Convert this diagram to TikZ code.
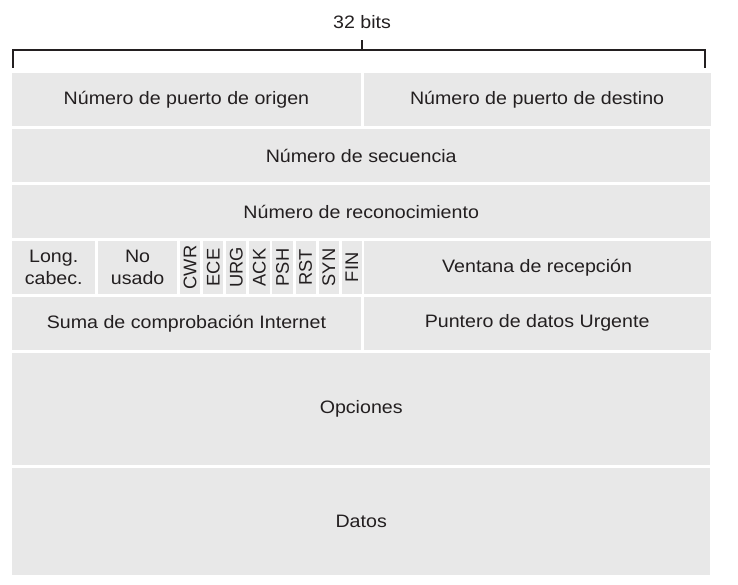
\documentclass[tikz,border=0pt]{standalone}
\usepackage{fontspec}
\setmainfont{Liberation Sans}[FakeStretch=1.09]
\newfontfamily\flagfont{Liberation Sans}
\usepackage{graphicx}
\usepackage{tikz}
\usetikzlibrary{positioning}
\definecolor{cellgray}{HTML}{E8E8E8}
\definecolor{inkgray}{HTML}{231F20}

\begin{document}
\begin{tikzpicture}
[x=1pt,y=-1pt,
 every node/.style={font=\fontsize{18}{21.5}\selectfont,text=inkgray},
 field/.style={fill=cellgray,inner sep=0pt,minimum height=53pt,anchor=north west},
 half field/.style={field,minimum width=348.5pt},
 right field/.style={field,minimum width=347pt},
 full field/.style={field,minimum width=698pt},
 flag/.style={field,minimum width=20.2pt,font=\flagfont\fontsize{18.3}{21.5}\selectfont},
 bracket/.style={draw=inkgray,line width=1.1pt}]

\useasboundingbox (0,0) rectangle (738,585);

% anchura de la cabecera
\node (bits) at (362,22) {32 bits};
\draw [bracket] (13,68) |- (705,50) -- (705,68);
\draw [bracket] (362,50) -- (362,40);

\node [half field] (sport) at (12,73) {Número de puerto de origen};
\node [right field] (dport) [right=2.5pt of sport] {Número de puerto de destino};
\node [full field] (seq) [below right=2.5pt and 0pt of sport.south west] {Número de secuencia};
\node [full field] (ackn) [below right=2.5pt and 0pt of seq.south west] {Número de reconocimiento};

% longitud, no usado y banderas
\node [field,minimum width=83pt,align=center] (hlen) [below right=2.5pt and 0pt of ackn.south west] {Long.\\cabec.};
\node [field,minimum width=79pt,align=center] (unused) [right=2.5pt of hlen] {No\\usado};
\node [flag] (cwr) [right=2.5pt of unused] {\rotatebox{90}{CWR}};
\node [flag] (ece) [right=2.5pt of cwr] {\rotatebox{90}{ECE}};
\node [flag] (urg) [right=2.5pt of ece] {\rotatebox{90}{URG}};
\node [flag] (ack) [right=2.5pt of urg] {\rotatebox{90}{ACK}};
\node [flag] (psh) [right=2.5pt of ack] {\rotatebox{90}{PSH}};
\node [flag] (rst) [right=2.5pt of psh] {\rotatebox{90}{RST}};
\node [flag] (syn) [right=2.5pt of rst] {\rotatebox{90}{SYN}};
\node [flag] (fin) [right=2.5pt of syn] {\rotatebox{90}{FIN}};
\node [right field,yshift=-2.5pt] (win) at (ackn.south -| dport.west) {Ventana de recepción};

\node [half field] (csum) [below right=2.5pt and 0pt of hlen.south west] {Suma de comprobación Internet};
\node [right field] (urgp) [right=2.5pt of csum] {Puntero de datos Urgente};

\node [full field,minimum height=112.5pt] (opts) [below right=2.5pt and 0pt of csum.south west] {Opciones};
\node [full field,minimum height=106.5pt] (data) [below right=2.5pt and 0pt of opts.south west] {Datos};
\end{tikzpicture}
\end{document}
